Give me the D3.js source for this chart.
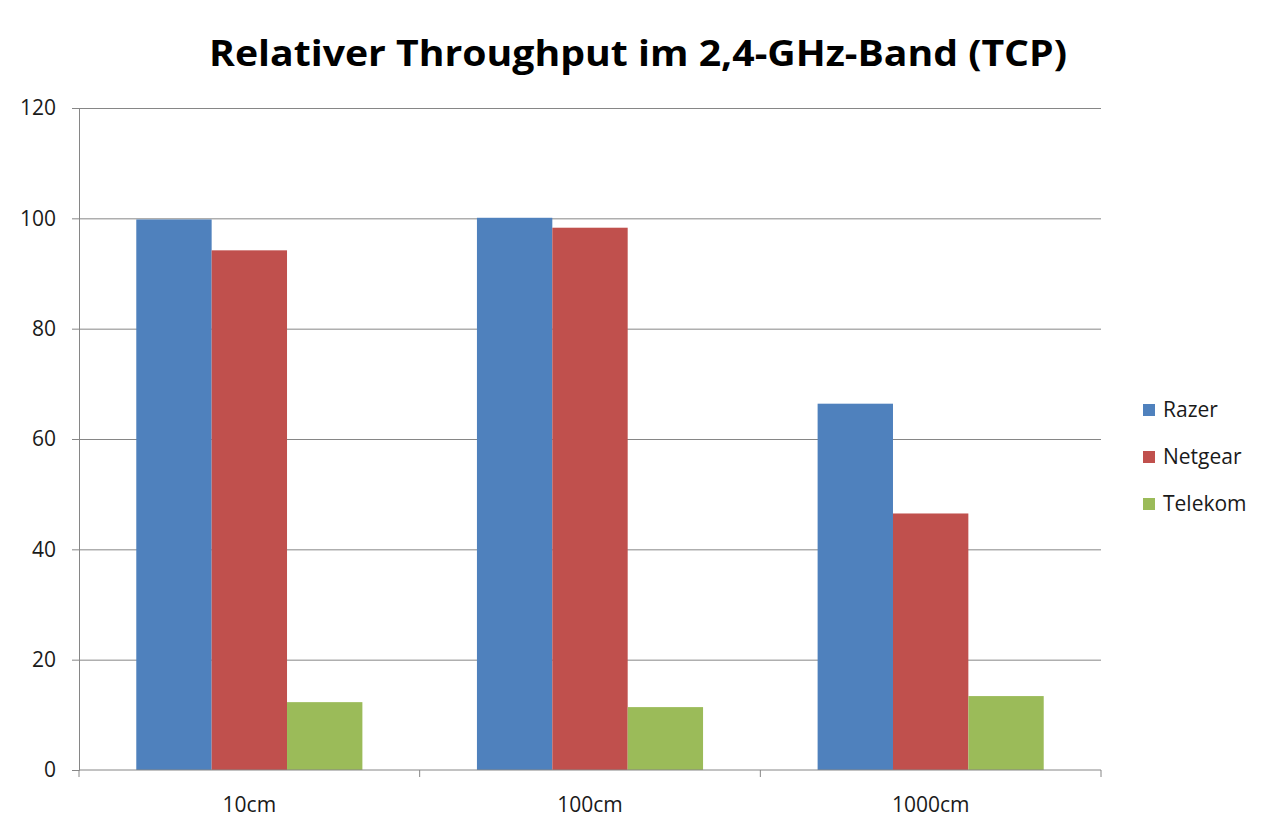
<!DOCTYPE html>
<html>
<head>
<meta charset="utf-8">
<script src="https://cdn.jsdelivr.net/npm/d3@7"></script>
<style>
  body { margin: 0; background: #fff; }
  text { font-family: "Open Sans", "Noto Sans", sans-serif; }
</style>
</head>
<body>
<script>
let categories = ['10cm', '100cm', '1000cm']
let series = ['Razer', 'Netgear', 'Telekom']
let razer = [99.8, 100.1, 66.4]
let netgear = [94.2, 98.3, 46.5]
let telekom = [12.3, 11.4, 13.4]
let yTicks = [0, 20, 40, 60, 80, 100, 120]
let colors = ['#4F81BD', '#C0504D', '#9BBB59']

let width = 1280, height = 836
let margin = { top: 108, right: 179, bottom: 66, left: 79 }

let values = [razer, netgear, telekom]
let data = categories.map((c, i) => ({
    cat: c,
    vals: series.map((s, j) => ({ name: s, value: values[j][i] }))
}))

let svg = d3.select('body').append('svg')
    .attr('width', width).attr('height', height)

let x0 = d3.scaleBand()
    .domain(categories)
    .range([margin.left, width - margin.right])
let x1 = d3.scaleBand()
    .domain(series)
    .range([0, x0.bandwidth()])
    .paddingOuter(0.76)
let y = d3.scaleLinear()
    .domain([0, 120])
    .range([height - margin.bottom, margin.top])
let color = d3.scaleOrdinal().domain(series).range(colors)

// title
svg.append('text')
    .attr('x', 638).attr('y', 66)
    .attr('text-anchor', 'middle')
    .attr('font-size', 36).attr('font-weight', 'bold')
    .attr('textLength', 858).attr('lengthAdjust', 'spacingAndGlyphs')
    .attr('fill', '#000')
    .text('Relativer Throughput im 2,4-GHz-Band (TCP)')

// y axis with gridlines
svg.append('g')
    .attr('transform', `translate(${margin.left},0)`)
    .call(d3.axisLeft(y).tickValues(yTicks).tickSize(7).tickPadding(16))
    .call(g => g.select('.domain').attr('stroke', '#868686'))
    .call(g => g.selectAll('.tick line').attr('stroke', '#868686'))
    .call(g => g.selectAll('.tick').filter(d => d > 0).append('line')
        .attr('x2', width - margin.right - margin.left)
        .attr('stroke', '#868686'))
    .call(g => g.selectAll('.tick text')
        .attr('font-size', 21).attr('fill', '#1a1a1a')
        .style('font-family', '"Open Sans", sans-serif'))

// bars
svg.append('g')
    .selectAll('g')
    .data(data)
    .join('g')
    .attr('transform', d => `translate(${x0(d.cat)},0)`)
    .selectAll('rect')
    .data(d => d.vals)
    .join('rect')
    .attr('x', d => x1(d.name))
    .attr('width', x1.bandwidth())
    .attr('y', d => y(d.value))
    .attr('height', d => y(0) - y(d.value))
    .attr('fill', d => color(d.name))

// x axis
let xTickPos = categories.map(c => x0(c)).concat([x0.range()[1]])
let xg = svg.append('g')
    .attr('transform', `translate(0,${height - margin.bottom})`)
xg.append('line')
    .attr('x1', margin.left).attr('x2', width - margin.right)
    .attr('stroke', '#868686')
xg.selectAll('.xt')
    .data(xTickPos)
    .join('line')
    .attr('class', 'xt')
    .attr('x1', d => d).attr('x2', d => d)
    .attr('y1', 0).attr('y2', 7)
    .attr('stroke', '#868686')
xg.selectAll('text')
    .data(categories)
    .join('text')
    .attr('x', d => x0(d) + x0.bandwidth() / 2)
    .attr('y', 42)
    .attr('text-anchor', 'middle')
    .attr('font-size', 21).attr('fill', '#1a1a1a')
    .text(d => d)

// legend
let legend = svg.append('g')
    .attr('transform', 'translate(1143,410)')
let items = legend.selectAll('g')
    .data(series)
    .join('g')
    .attr('transform', (d, i) => `translate(0,${i * 47})`)
items.append('rect')
    .attr('x', 0).attr('y', -6)
    .attr('width', 12).attr('height', 12)
    .attr('fill', d => color(d))
items.append('text')
    .attr('x', 20).attr('y', 7)
    .attr('font-size', 21).attr('fill', '#1a1a1a')
    .text(d => d)
</script>
</body>
</html>
